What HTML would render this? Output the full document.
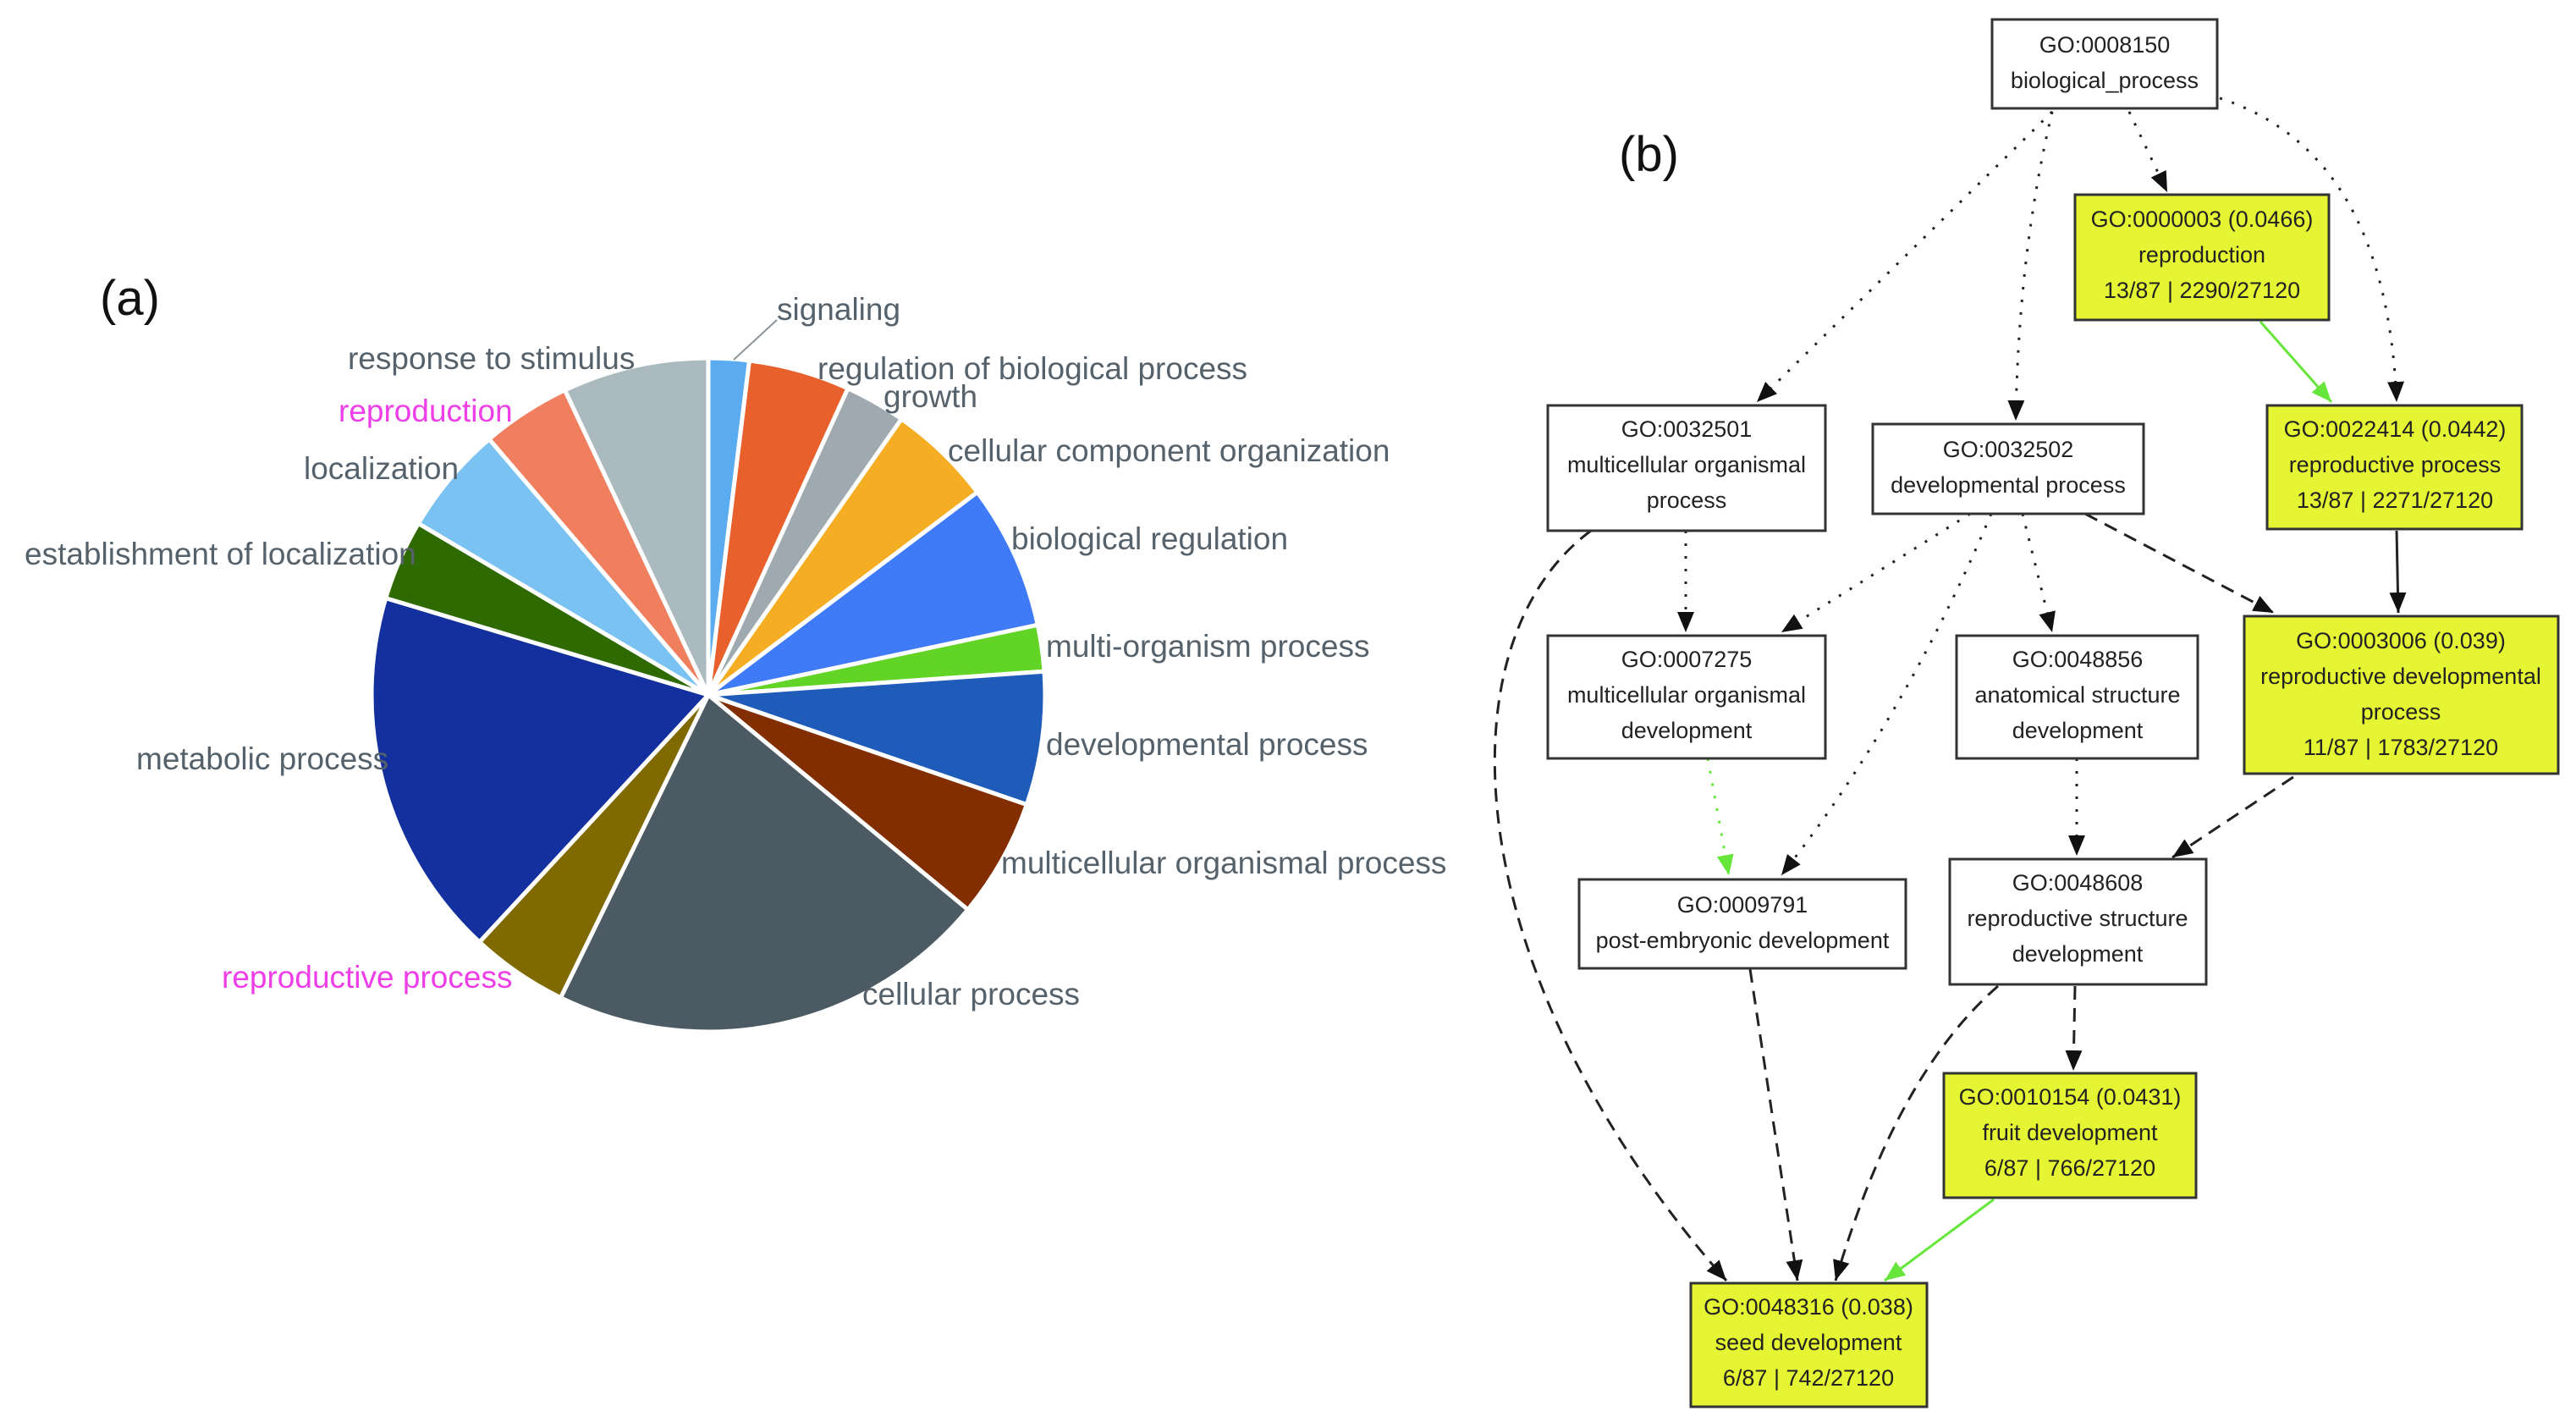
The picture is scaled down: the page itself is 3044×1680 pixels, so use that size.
<!DOCTYPE html>
<html><head><meta charset="utf-8"><style>
html,body{margin:0;padding:0;background:#fff}
svg{display:block}
.pl{font-family:"Liberation Sans",sans-serif;font-size:37px;fill:#56626b}
.nt{font-family:"Liberation Sans",sans-serif;font-size:27px;fill:#222;text-anchor:middle}
.bx{stroke:#333;stroke-width:3}
.w{fill:#fff}.y{fill:#e6f533}
.e{fill:none;stroke:#222;stroke-width:3}
.dot{stroke-dasharray:3 12}
.dash{stroke-dasharray:16 10}
.g{stroke:#66e63a}
</style></head><body>
<svg width="3044" height="1680" viewBox="0 0 3044 1680" xmlns="http://www.w3.org/2000/svg">
<defs>
<marker id="ab" markerUnits="userSpaceOnUse" markerWidth="26" markerHeight="26" refX="24" refY="12" orient="auto"><path d="M0,2 L24,12 L0,22 z" fill="#111"/></marker>
<marker id="ag" markerUnits="userSpaceOnUse" markerWidth="26" markerHeight="26" refX="24" refY="12" orient="auto"><path d="M0,2 L24,12 L0,22 z" fill="#66e63a"/></marker>
</defs>
<text x="118" y="372" font-family="Liberation Sans,sans-serif" font-size="58" fill="#111">(a)</text>
<text x="1913" y="202" font-family="Liberation Sans,sans-serif" font-size="58" fill="#111">(b)</text>
<g id="pie" stroke="#fff" stroke-width="5"></g>
<line x1="867" y1="425" x2="918" y2="378" stroke="#8a949a" stroke-width="2"/>
<text class="pl" x="918" y="378">signaling</text>
<text class="pl" x="411" y="436">response to stimulus</text>
<text class="pl" x="966" y="448">regulation of biological process</text>
<text class="pl" x="1044" y="481">growth</text>
<text class="pl" x="400" y="498" style="fill:#ee3ee8">reproduction</text>
<text class="pl" x="1120" y="545">cellular component organization</text>
<text class="pl" x="359" y="566">localization</text>
<text class="pl" x="1195" y="649">biological regulation</text>
<text class="pl" x="29" y="667">establishment of localization</text>
<text class="pl" x="1236" y="776">multi-organism process</text>
<text class="pl" x="1236" y="892">developmental process</text>
<text class="pl" x="161" y="909">metabolic process</text>
<text class="pl" x="1183" y="1032">multicellular organismal process</text>
<text class="pl" x="262" y="1167" style="fill:#ee3ee8">reproductive process</text>
<text class="pl" x="1019" y="1187">cellular process</text>

<path class="e dot" d="M2425,132 L2076,475" marker-end="url(#ab)"/>
<path class="e dot" d="M2425,132 Q2385,300 2382,497" marker-end="url(#ab)"/>
<path class="e dot" d="M2516,132 L2561,227" marker-end="url(#ab)"/>
<path class="e dot" d="M2623,116 Q2820,180 2832,475" marker-end="url(#ab)"/>
<path class="e g" d="M2671,380 L2755,475" marker-end="url(#ag)"/>
<path class="e" d="M2832,627 L2834,724" marker-end="url(#ab)"/>
<path class="e dot" d="M1992,627 L1992,747" marker-end="url(#ab)"/>
<path class="e dot" d="M2328,607 L2105,747" marker-end="url(#ab)"/>
<path class="e dot" d="M2353,607 Q2250,850 2105,1034" marker-end="url(#ab)"/>
<path class="e dot" d="M2390,607 L2425,747" marker-end="url(#ab)"/>
<path class="e dash" d="M2464,607 L2687,724" marker-end="url(#ab)"/>
<path class="e dot g" d="M2018,896 L2043,1034" marker-end="url(#ag)"/>
<path class="e dot" d="M2454,896 L2454,1011" marker-end="url(#ab)"/>
<path class="e dash" d="M2710,918 L2567,1013" marker-end="url(#ab)"/>
<path class="e dash" d="M1880,627 C1700,760 1720,1150 2040,1513" marker-end="url(#ab)"/>
<path class="e dash" d="M2068,1145 L2124,1513" marker-end="url(#ab)"/>
<path class="e dash" d="M2361,1165 Q2240,1270 2169,1513" marker-end="url(#ab)"/>
<path class="e dash" d="M2452,1165 L2450,1265" marker-end="url(#ab)"/>
<path class="e g" d="M2356,1417 L2227,1513" marker-end="url(#ag)"/>

<rect class="bx w" x="2354" y="23" width="266" height="105"/>
<text class="nt" x="2487" y="62">GO:0008150</text><text class="nt" x="2487" y="104">biological_process</text>

<rect class="bx y" x="2452" y="230" width="300" height="148"/>
<text class="nt" x="2602" y="268">GO:0000003 (0.0466)</text><text class="nt" x="2602" y="310">reproduction</text><text class="nt" x="2602" y="352">13/87 | 2290/27120</text>

<rect class="bx w" x="1829" y="479" width="328" height="148"/>
<text class="nt" x="1993" y="516">GO:0032501</text><text class="nt" x="1993" y="558">multicellular organismal</text><text class="nt" x="1993" y="600">process</text>

<rect class="bx w" x="2213" y="501" width="320" height="106"/>
<text class="nt" x="2373" y="540">GO:0032502</text><text class="nt" x="2373" y="582">developmental process</text>

<rect class="bx y" x="2679" y="479" width="301" height="146"/>
<text class="nt" x="2830" y="516">GO:0022414 (0.0442)</text><text class="nt" x="2830" y="558">reproductive process</text><text class="nt" x="2830" y="600">13/87 | 2271/27120</text>

<rect class="bx w" x="1829" y="751" width="328" height="145"/>
<text class="nt" x="1993" y="788">GO:0007275</text><text class="nt" x="1993" y="830">multicellular organismal</text><text class="nt" x="1993" y="872">development</text>

<rect class="bx w" x="2312" y="751" width="285" height="145"/>
<text class="nt" x="2455" y="788">GO:0048856</text><text class="nt" x="2455" y="830">anatomical structure</text><text class="nt" x="2455" y="872">development</text>

<rect class="bx y" x="2652" y="728" width="371" height="186"/>
<text class="nt" x="2837" y="766">GO:0003006 (0.039)</text><text class="nt" x="2837" y="808">reproductive developmental</text><text class="nt" x="2837" y="850">process</text><text class="nt" x="2837" y="892">11/87 | 1783/27120</text>

<rect class="bx w" x="1866" y="1039" width="386" height="105"/>
<text class="nt" x="2059" y="1078">GO:0009791</text><text class="nt" x="2059" y="1120">post-embryonic development</text>

<rect class="bx w" x="2304" y="1015" width="303" height="148"/>
<text class="nt" x="2455" y="1052">GO:0048608</text><text class="nt" x="2455" y="1094">reproductive structure</text><text class="nt" x="2455" y="1136">development</text>

<rect class="bx y" x="2297" y="1268" width="298" height="147"/>
<text class="nt" x="2446" y="1305">GO:0010154 (0.0431)</text><text class="nt" x="2446" y="1347">fruit development</text><text class="nt" x="2446" y="1389">6/87 | 766/27120</text>

<rect class="bx y" x="1998" y="1516" width="279" height="146"/>
<text class="nt" x="2137" y="1553">GO:0048316 (0.038)</text><text class="nt" x="2137" y="1595">seed development</text><text class="nt" x="2137" y="1637">6/87 | 742/27120</text>
</svg>
<script>
(function(){
var cx=837,cy=821,r=398;
var s=[[0,7,"#5aabf0"],[7,24.5,"#e8602c"],[24.5,35,"#9eaab0"],[35,53,"#f5ad23"],[53,78,"#3f7bf7"],[78,86,"#62d425"],[86,109,"#1f5bb8"],[109,129.6,"#822e00"],[129.6,206,"#4b5a63"],[206,222.8,"#806a00"],[222.8,286.7,"#13309e"],[286.7,300.6,"#2e6a00"],[300.6,319.4,"#79c2f2"],[319.4,334.8,"#ef7f5e"],[334.8,360,"#abbabf"]];
var g=document.getElementById("pie"),h="";
function p(a){a=a*Math.PI/180;return (cx+r*Math.sin(a)).toFixed(1)+","+(cy-r*Math.cos(a)).toFixed(1);}
s.forEach(function(t){var la=(t[1]-t[0])>180?1:0;h+='<path d="M'+cx+','+cy+' L'+p(t[0])+' A'+r+','+r+' 0 '+la+' 1 '+p(t[1])+' Z" fill="'+t[2]+'"/>';});
g.innerHTML=h;
})();
</script>
</body></html>
